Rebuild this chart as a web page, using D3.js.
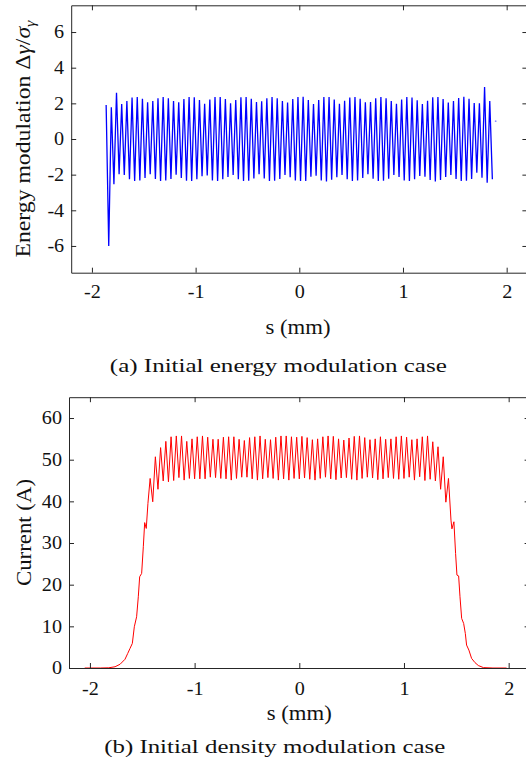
<!DOCTYPE html>
<html>
<head>
<meta charset="utf-8">
<script src="https://cdn.jsdelivr.net/npm/d3@7"></script>
<style>
  body { margin: 0; background: #fff; }
</style>
</head>
<body>
<svg id="chart" width="526" height="764"></svg>
<script>
// ---------- (a) energy modulation: crest / trough values of the sampled wave ----------
const energyStart = -1.863;   // s of the first crest (mm)
const energyPeriod = 0.05;    // modulation wavelength (mm)
const energyPeaks = [
  1.91, 1.78, 2.60, 1.96, 2.13, 2.32, 2.36, 2.26, 2.06, 2.13,
  2.28, 2.36, 2.28, 2.13, 2.06, 2.24, 2.36, 2.34, 2.19, 1.98,
  2.22, 2.36, 2.36, 2.24, 2.00, 2.19, 2.34, 2.36, 2.26, 2.08,
  2.11, 2.28, 2.36, 2.28, 2.13, 2.04, 2.24, 2.36, 2.37, 2.19,
  1.96, 2.19, 2.36, 2.36, 2.22, 1.98, 2.15, 2.32, 2.36, 2.26,
  2.06, 2.08, 2.28, 2.36, 2.28, 2.13, 1.98, 2.22, 2.36, 2.32,
  2.17, 1.96, 2.15, 2.34, 2.36, 2.24, 2.04, 2.13, 2.30, 2.37,
  2.26, 2.02, 2.00, 2.92, 2.13
];
const energyTroughs = [
  -6.00, -2.54, -1.98, -2.02, -2.26, -2.36, -2.32, -2.19, -1.98, -2.24,
  -2.36, -2.32, -2.24, -2.00, -2.19, -2.34, -2.36, -2.26, -2.09, -2.04,
  -2.32, -2.36, -2.26, -2.13, -2.02, -2.26, -2.36, -2.34, -2.21, -1.98,
  -2.21, -2.36, -2.34, -2.24, -2.02, -2.15, -2.32, -2.36, -2.36, -2.11,
  -2.06, -2.32, -2.38, -2.28, -2.15, -2.02, -2.26, -2.36, -2.32, -2.19,
  -1.98, -2.23, -2.36, -2.34, -2.23, -2.02, -2.13, -2.32, -2.36, -2.26,
  -2.08, -2.11, -2.30, -2.38, -2.30, -2.13, -2.02, -2.24, -2.36, -2.34,
  -2.24, -1.89, -2.17, -2.45, -2.26
];
const energyStray = [{ s: 1.894, v: 1.0 }];
const energyTicksX = [-2, -1, 0, 1, 2];
const energyTicksY = [-6, -4, -2, 0, 2, 4, 6];

// ---------- (b) density modulation: current profile ----------
const riseEdge = [
  [-2.05, 0], [-1.90, 0], [-1.82, 0.05], [-1.76, 0.3], [-1.712, 0.9], [-1.665, 2.1],
  [-1.639, 3.5], [-1.617, 4.7], [-1.595, 5.9], [-1.576, 9.9], [-1.554, 12.3],
  [-1.538, 17.1], [-1.525, 21.9], [-1.506, 22.7], [-1.49, 29.1], [-1.477, 34.9],
  [-1.462, 33.5], [-1.446, 39.5]
];
const currentStart = -1.425;  // s of the first crest on the flat top (mm)
const currentPeriod = 0.05;
const currentPeaks = [
  45.5, 50.7, 52.9, 54.4, 55.5, 55.7, 55.7, 54.4, 55.0, 55.5,
  55.7, 55.4, 54.9, 54.9, 55.4, 55.5, 55.5, 54.9, 54.6, 55.3,
  55.5, 55.7, 54.9, 54.8, 55.4, 55.7, 55.7, 55.5, 55.4, 55.6,
  55.3, 54.8, 55.0, 55.5, 55.7, 55.6, 55.0, 54.7, 55.2, 55.6,
  55.7, 55.3, 54.8, 55.0, 55.5, 54.9, 55.0, 55.5, 55.7, 55.4,
  54.8, 55.0, 55.5, 55.7, 54.3, 53.1, 50.7, 45.5
];
const currentTroughs = [
  39.9, 42.9, 44.9, 44.7, 45.0, 45.7, 45.1, 45.5, 45.4, 45.4,
  45.4, 45.8, 45.7, 45.5, 45.4, 45.1, 45.5, 45.8, 45.8, 45.4,
  45.1, 45.4, 45.7, 45.5, 45.1, 45.4, 45.1, 45.5, 45.4, 45.6,
  45.3, 45.1, 45.5, 45.8, 45.4, 45.2, 45.6, 45.7, 45.3, 45.1,
  45.5, 45.8, 45.6, 45.2, 45.4, 45.7, 45.5, 45.3, 45.5, 45.8,
  45.1, 45.9, 45.0, 45.3, 44.9, 42.9, 39.8
];
const fallEdge = [
  [1.449, 35.5], [1.458, 33.4], [1.477, 35.1], [1.493, 27.5], [1.506, 22.3],
  [1.522, 22.1], [1.535, 17.1], [1.551, 11.9], [1.57, 10.7], [1.586, 8.3],
  [1.598, 5.5], [1.62, 4.3], [1.646, 2.3], [1.678, 1.3], [1.71, 0.6],
  [1.758, 0.1], [1.85, 0], [1.98, 0]
];
const currentTicksX = [-2, -1, 0, 1, 2];
const currentTicksY = [0, 10, 20, 30, 40, 50, 60];

// ---------- assemble series ----------
function crestSeries(start, period, peaks, troughs) {
  const out = [];
  peaks.forEach((p, i) => {
    out.push({ s: start + i * period, v: p });
    if (i < troughs.length) out.push({ s: start + (i + 0.5) * period, v: troughs[i] });
  });
  return out;
}
const energySeries = crestSeries(energyStart, energyPeriod, energyPeaks, energyTroughs);
const currentSeries = riseEdge.map(([s, v]) => ({ s, v }))
  .concat(crestSeries(currentStart, currentPeriod, currentPeaks, currentTroughs))
  .concat(fallEdge.map(([s, v]) => ({ s, v })));

const svg = d3.select("#chart");
const axisColor = "#262626";
const textColor = "#111";
const serif = "'Liberation Serif', serif";

// widen tick numerals slightly (wide serif numerals)
function widen(sel, factor) {
  sel.each(function () {
    const w = this.getComputedTextLength();
    d3.select(this).attr("textLength", w * factor).attr("lengthAdjust", "spacingAndGlyphs");
  });
}

function panel(cfg) {
  const x = d3.scaleLinear().domain(cfg.xDomain).range([cfg.left, cfg.right]);
  const y = d3.scaleLinear().domain(cfg.yDomain).range([cfg.bottom, cfg.top]);
  const g = svg.append("g");
  const fmt = d => String(d);
  const tick = 5;

  // data
  g.append("path")
    .datum(cfg.series)
    .attr("fill", "none")
    .attr("stroke", cfg.color)
    .attr("stroke-width", cfg.width)
    .attr("d", d3.line().x(d => x(d.s)).y(d => y(d.v)));

  if (cfg.stray) {
    g.selectAll("circle.stray").data(cfg.stray).join("circle")
      .attr("class", "stray")
      .attr("cx", d => x(d.s)).attr("cy", d => y(d.v))
      .attr("r", 0.9).attr("fill", cfg.color).attr("opacity", 0.45);
  }

  const style = sel => {
    sel.select(".domain").attr("stroke", axisColor).attr("stroke-width", 1);
    sel.selectAll(".tick line").attr("stroke", axisColor).attr("stroke-width", 1);
    sel.selectAll("text").style("font-family", serif).attr("font-size", 18).attr("fill", textColor);
  };

  // bottom axis with labels
  g.append("g").attr("transform", `translate(0,${cfg.bottom})`)
    .call(d3.axisBottom(x).tickValues(cfg.ticksX).tickFormat(fmt).tickSize(-tick).tickSizeOuter(0))
    .call(style)
    .call(s => s.selectAll("text").attr("y", cfg.xLabelBase - cfg.bottom).attr("dy", null))
    .call(s => widen(s.selectAll("text"), 1.12));
  // top mirror
  g.append("g").attr("transform", `translate(0,${cfg.top})`)
    .call(d3.axisTop(x).tickValues(cfg.ticksX).tickFormat("").tickSize(-tick).tickSizeOuter(0))
    .call(style);
  // left axis with labels
  g.append("g").attr("transform", `translate(${cfg.left},0)`)
    .call(d3.axisLeft(y).tickValues(cfg.ticksY).tickFormat(fmt).tickSize(-tick).tickSizeOuter(0))
    .call(style)
    .call(s => s.selectAll("text").attr("x", -7))
    .call(s => widen(s.selectAll("text"), 1.12));
  // right mirror
  g.append("g").attr("transform", `translate(${cfg.right},0)`)
    .call(d3.axisRight(y).tickValues(cfg.ticksY).tickFormat("").tickSize(-tick).tickSizeOuter(0))
    .call(style);
  return { x, y, g };
}

// (a)
panel({
  left: 71.2, right: 527.4, top: 5.3, bottom: 272.7,
  xDomain: [-2.2, 2.2], yDomain: [-7.5, 7.5],
  ticksX: energyTicksX, ticksY: energyTicksY,
  series: energySeries, stray: energyStray,
  color: "#0000ff", width: 1.3, xLabelBase: 298
});

// (b)
panel({
  left: 69.0, right: 529.6, top: 397.2, bottom: 668,
  xDomain: [-2.2, 2.2], yDomain: [0, 65],
  ticksX: currentTicksX, ticksY: currentTicksY,
  series: currentSeries,
  color: "#ff0000", width: 1, xLabelBase: 695
});

function label(x, y, size, len, rotate) {
  return svg.append("text")
    .attr("transform", `translate(${x},${y})` + (rotate ? " rotate(-90)" : ""))
    .attr("text-anchor", "middle").attr("font-size", size)
    .attr("fill", textColor).style("font-family", serif)
    .attr("textLength", len).attr("lengthAdjust", "spacingAndGlyphs");
}

// axis titles
const yTitleA = label(30, 139, 22, 237, true);
yTitleA.append("tspan").text("Energy modulation ");
yTitleA.append("tspan").text("Δ");
yTitleA.append("tspan").attr("font-style", "italic").text("γ");
yTitleA.append("tspan").text("/");
yTitleA.append("tspan").attr("font-style", "italic").text("σ");
yTitleA.append("tspan").attr("font-style", "italic").attr("font-size", 15).attr("dy", 5).text("γ");

label(31, 532.5, 22, 107, true).text("Current (A)");
label(298, 334, 21, 65, false).text("s (mm)");
label(299.2, 720, 21, 65, false).text("s (mm)");

// captions
label(278.3, 371.7, 19.5, 337, false).text("(a) Initial energy modulation case");
label(274.7, 753, 19.5, 341, false).text("(b) Initial density modulation case");
</script>
</body>
</html>
